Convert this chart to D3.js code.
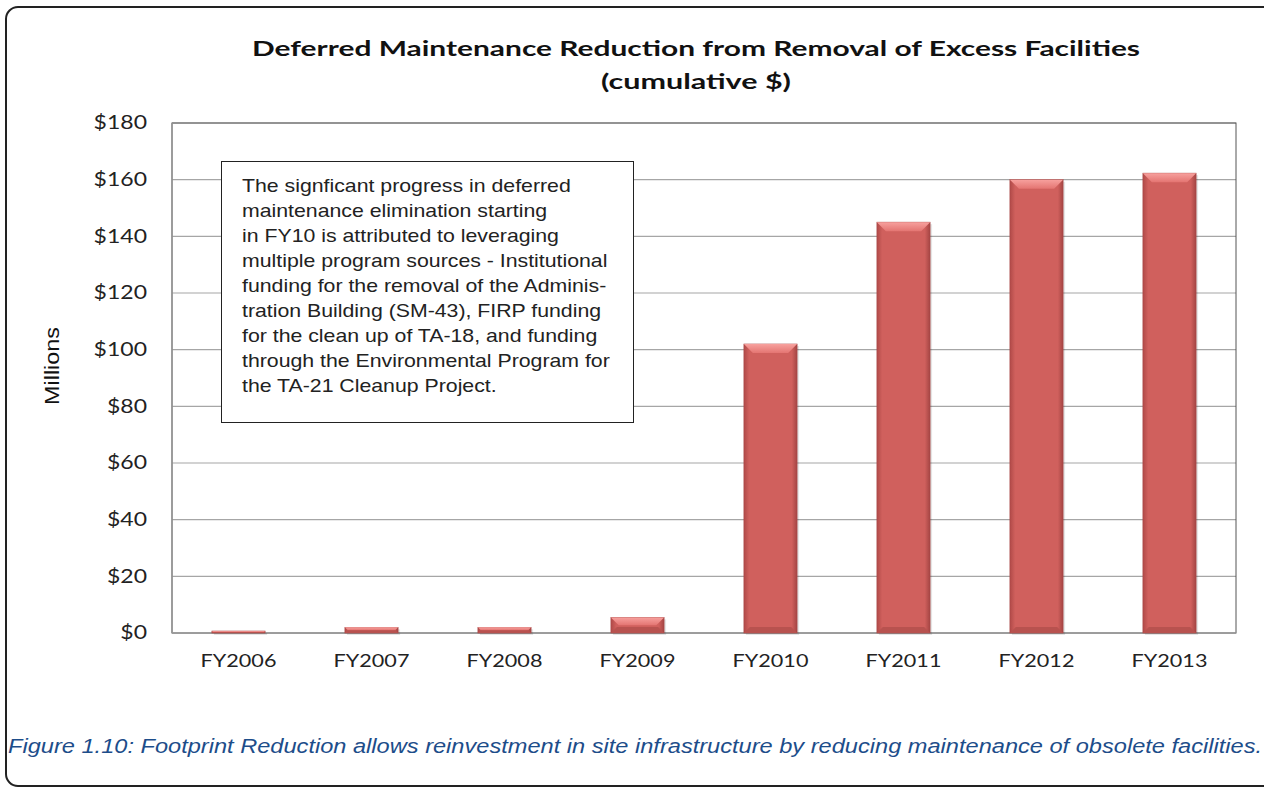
<!DOCTYPE html>
<html><head><meta charset="utf-8">
<script src="https://cdn.jsdelivr.net/npm/d3@7"></script>
<style>body{margin:0;background:#fff;}svg{display:block;}</style>
</head><body>
<svg id="c" width="1264" height="790"></svg>
<script>
const categories = ["FY2006","FY2007","FY2008","FY2009","FY2010","FY2011","FY2012","FY2013"];
const values = [0.7, 2.0, 2.0, 5.5, 102, 145, 160, 162.3];
const yTicks = [0,20,40,60,80,100,120,140,160,180];
const titleLines = ["Deferred Maintenance Reduction from Removal of Excess Facilities","(cumulative $)"];
const yAxisTitle = "Millions";
const noteLines = [
 "The signficant progress in deferred",
 "maintenance elimination starting",
 "in FY10 is attributed to leveraging",
 "multiple program sources - Institutional",
 "funding for the removal of the Adminis-",
 "tration Building (SM-43), FIRP funding",
 "for the clean up of TA-18, and funding",
 "through the Environmental Program for",
 "the TA-21 Cleanup Project."
];
const caption = "Figure 1.10: Footprint Reduction allows reinvestment in site infrastructure by reducing maintenance of obsolete facilities.";

(function(){
const svg = d3.select("#c");
function stretch(sel, f){
  sel.each(function(){ const L=this.getComputedTextLength(); d3.select(this).attr("textLength",L*f).attr("lengthAdjust","spacingAndGlyphs"); });
}
const defs = svg.append("defs");
const g1 = defs.append("linearGradient").attr("id","barH").attr("x1",0).attr("x2",1).attr("y1",0).attr("y2",0);
g1.append("stop").attr("offset","0").attr("stop-color","#b04a48");
g1.append("stop").attr("offset","0.1").attr("stop-color","#d0605d");
g1.append("stop").attr("offset","0.9").attr("stop-color","#d0605d");
g1.append("stop").attr("offset","1").attr("stop-color","#a44543");
const g2 = defs.append("linearGradient").attr("id","bevT").attr("x1",0).attr("x2",0).attr("y1",0).attr("y2",1);
g2.append("stop").attr("offset","0").attr("stop-color","#f7a19e");
g2.append("stop").attr("offset","1").attr("stop-color","#e47572");

// outer frame
svg.append("rect").attr("x",6).attr("y",7).attr("width",1270).attr("height",779)
  .attr("rx",12).attr("fill","#fff").attr("stroke","#222").attr("stroke-width",2);

const pL=172, pR=1236, pT=123, pB=633;
const x = d3.scaleBand().domain(categories).range([pL,pR]).paddingInner(0.6).paddingOuter(0.3);
const y = d3.scaleLinear().domain([0,180]).range([pB,pT]);

// gridlines
svg.append("g").selectAll("line").data(yTicks.slice(1)).join("line")
  .attr("x1",pL).attr("x2",pR).attr("y1",d=>y(d)).attr("y2",d=>y(d))
  .attr("stroke","#a6a6a6").attr("stroke-width",1.2);

// plot border
svg.append("rect").attr("x",pL).attr("y",pT).attr("width",pR-pL).attr("height",pB-pT)
  .attr("fill","none").attr("stroke","#555").attr("stroke-width",1);
svg.append("line").attr("x1",pL).attr("x2",pL).attr("y1",pT).attr("y2",pB).attr("stroke","#999").attr("stroke-width",1.5);
svg.append("line").attr("x1",pL).attr("x2",pR).attr("y1",pB).attr("y2",pB).attr("stroke","#999").attr("stroke-width",1.5);

// y axis labels
const yAxis = d3.axisLeft(y).tickValues(yTicks).tickSize(0).tickPadding(25).tickFormat(d=>"$"+d);
const ya = svg.append("g").attr("transform",`translate(${pL},0)`).call(yAxis);
ya.select(".domain").remove();
ya.selectAll("text").attr("font-family","Lato, sans-serif").attr("font-size",19.5).attr("fill","#222")
  .attr("dy","0.3em");
stretch(ya.selectAll("text"),1.18);

// x axis labels
const xAxis = d3.axisBottom(x).tickSize(0).tickPadding(21);
const xa = svg.append("g").attr("transform",`translate(0,${pB})`).call(xAxis);
xa.select(".domain").remove();
xa.selectAll("text").attr("font-family","Lato, sans-serif").attr("font-size",18).attr("fill","#222");
stretch(xa.selectAll("text"),1.2);

// bars
const bars = svg.append("g").selectAll("g").data(categories).join("g");
bars.append("rect").attr("x",d=>x(d)+2).attr("y",(d,i)=>y(values[i])+2)
  .attr("width",x.bandwidth()).attr("height",(d,i)=>pB-y(values[i]))
  .attr("fill","#000").attr("opacity",0.1);
bars.append("rect").attr("x",d=>x(d)).attr("y",(d,i)=>y(values[i]))
  .attr("width",x.bandwidth()).attr("height",(d,i)=>pB-y(values[i]))
  .attr("fill","url(#barH)").attr("stroke","#a94846").attr("stroke-width",0.6);
// top bevel
bars.append("path").attr("d",(d,i)=>{
  const x0=x(d), w=x.bandwidth(), yt=y(values[i]), h=Math.min(9,(pB-yt)/2);
  const b=Math.min(9,h);
  return `M${x0},${yt}L${x0+w},${yt}L${x0+w-b},${yt+h}L${x0+b},${yt+h}Z`;
}).attr("fill","url(#bevT)");
// bottom bevel
bars.append("path").attr("d",(d,i)=>{
  const x0=x(d), w=x.bandwidth(), yt=y(values[i]), h=Math.min(6,(pB-yt)/2);
  return `M${x0},${pB}L${x0+w},${pB}L${x0+w-h},${pB-h}L${x0+h},${pB-h}Z`;
}).attr("fill","#b8524f");

// annotation box
svg.append("rect").attr("x",221.5).attr("y",161.5).attr("width",412).attr("height",261)
  .attr("fill","#fff").attr("stroke","#222").attr("stroke-width",1);
const notes = svg.append("g").selectAll("text").data(noteLines).join("text")
  .attr("x",242).attr("y",(d,i)=>192+i*25)
  .attr("font-family","Arial, 'Liberation Sans', sans-serif").attr("font-size",18.5).attr("fill","#222")
  .text(d=>d);
stretch(notes,1.15);

// title
svg.append("g").selectAll("text").data(titleLines).join("text")
  .attr("x",696).attr("y",(d,i)=>56+i*33).attr("text-anchor","middle")
  .attr("font-family","Lato, sans-serif").attr("font-weight","bold").attr("font-size",21).attr("fill","#111")
  .attr("textLength",(d,i)=>i===0?888:190).attr("lengthAdjust","spacingAndGlyphs")
  .text(d=>d);

// y axis title
svg.append("text").attr("transform","translate(59,366) rotate(-90)").attr("text-anchor","middle")
  .attr("font-family","Arial, 'Liberation Sans', sans-serif").attr("font-size",20).attr("fill","#111")
  .attr("textLength",78).attr("lengthAdjust","spacingAndGlyphs")
  .text(yAxisTitle);

// caption
svg.append("text").attr("x",8).attr("y",753)
  .attr("font-family","Arial, 'Liberation Sans', sans-serif").attr("font-style","italic").attr("font-size",20)
  .attr("fill","#1d4d8a").attr("textLength",1254).attr("lengthAdjust","spacingAndGlyphs")
  .text(caption);
})();
</script>
</body></html>
